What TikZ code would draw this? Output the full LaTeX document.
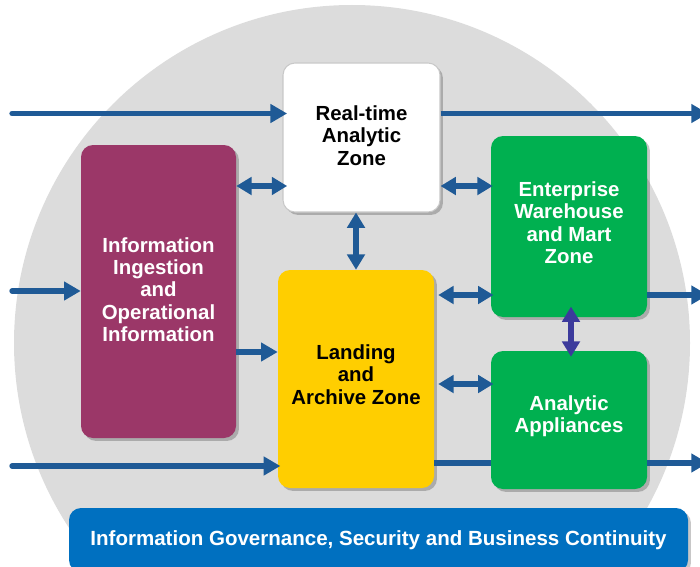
\documentclass[tikz,border=0pt]{standalone}
\usepackage{fontspec}
\setmainfont{Liberation Sans}
\usetikzlibrary{arrows.meta,shadows}
\definecolor{circlegray}{RGB}{220,220,220}
\definecolor{arrowblue}{RGB}{31,90,150}
\definecolor{indigoarrow}{RGB}{60,58,156}
\definecolor{zonepurple}{RGB}{155,55,104}
\definecolor{zoneyellow}{RGB}{255,206,0}
\definecolor{zonegreen}{RGB}{0,176,80}
\definecolor{barblue}{RGB}{0,112,192}
\definecolor{rtborder}{RGB}{200,200,200}
\begin{document}
\begin{tikzpicture}[x=0.75pt,y=-0.75pt,
  zone/.style={rounded corners=9pt, align=center, inner sep=0pt,
    font=\bfseries\fontsize{15.3}{16.7}\selectfont,
    drop shadow={shadow xshift=2.2pt, shadow yshift=-2.2pt, fill=black, opacity=0.22}},
  link/.style={draw=arrowblue, line width=4pt, line cap=round, -{Triangle[length=12.5pt,width=13.5pt]}},
  outlink/.style={draw=arrowblue, line width=4pt, -{Triangle[length=12.5pt,width=13.5pt]}},
  both/.style={draw=arrowblue, line width=4pt, {Triangle[length=11.5pt,width=13pt]}-{Triangle[length=11.5pt,width=13pt]}},
  plainlink/.style={draw=arrowblue, line width=4pt}]
\useasboundingbox (0,0) rectangle (700,567);
\clip (0,0) rectangle (700,567);
\fill[circlegray] (352,343) circle [radius=253.5pt];

\node[zone, fill=white, draw=rtborder, line width=0.8pt, minimum width=117.75pt, minimum height=111.75pt, text depth=3pt] (rt) at (361.5,137.5) {Real-time\\Analytic\\Zone};
\node[zone, fill=zonepurple, text=white, minimum width=116.25pt, minimum height=219.75pt, text depth=3pt] (ingest) at (158.5,291.5) {Information\\Ingestion\\and\\Operational\\Information};
\node[zone, fill=zoneyellow, minimum width=117pt, minimum height=163.5pt, text depth=6.8pt] (land) at (356,379) {Landing\\and\\Archive Zone};
\node[zone, fill=zonegreen, text=white, minimum width=117pt, minimum height=135.75pt, text depth=6pt] (ent) at (569,226.5) {Enterprise\\Warehouse\\and Mart\\Zone};
\node[zone, fill=zonegreen, text=white, minimum width=117pt, minimum height=103.5pt, text depth=9.2pt] (appl) at (569,420) {Analytic\\Appliances};
\node[zone, fill=barblue, text=white, minimum width=464.25pt, minimum height=48pt, font=\bfseries\fontsize{15.4}{18}\selectfont] (gov) at (378.5,540) {Information Governance, Security and Business Continuity};

% inputs
\coordinate (in1) at (12,113.5);
\coordinate (in2) at (12,291);
\coordinate (in3) at (12,466);
\draw[link, shorten >=-3.5pt] (in1) -- (rt.west |- in1);
\draw[link] (in2) -- (ingest.west |- in2);
\draw[link, shorten >=-2pt] (in3) -- (land.west |- in3);

% outputs
\coordinate (out1) at (708,113.5);
\coordinate (out2) at (708,295);
\coordinate (out3) at (708,463);
\draw[outlink] (rt.east |- out1) -- (out1);
\draw[outlink] (ent.east |- out2) -- (out2);
\draw[plainlink] (land.east |- out3) -- (appl.west |- out3);
\draw[outlink] (appl.east |- out3) -- (out3);

% internal
\draw[both, shorten >=-3.5pt] (ingest.east |- 0,186) -- (rt.west |- 0,186);
\draw[both, shorten >=-1.5pt] (rt.east |- 0,186) -- (ent.west |- 0,186);
\draw[both] (rt.south -| land.north) -- (land.north);
\draw[outlink] (ingest.east |- 0,352) -- (land.west |- 0,352);
\draw[both, shorten <=3pt, shorten >=-2pt] (land.east |- 0,295) -- (ent.west |- 0,295);
\draw[both, shorten <=3pt, shorten >=-2pt] (land.east |- 0,384) -- (appl.west |- 0,384);
\draw[both, draw=indigoarrow, shorten <=-8pt, shorten >=-4.5pt] ([xshift=1.5pt]ent.south) -- ([xshift=1.5pt]appl.north);
\end{tikzpicture}
\end{document}
